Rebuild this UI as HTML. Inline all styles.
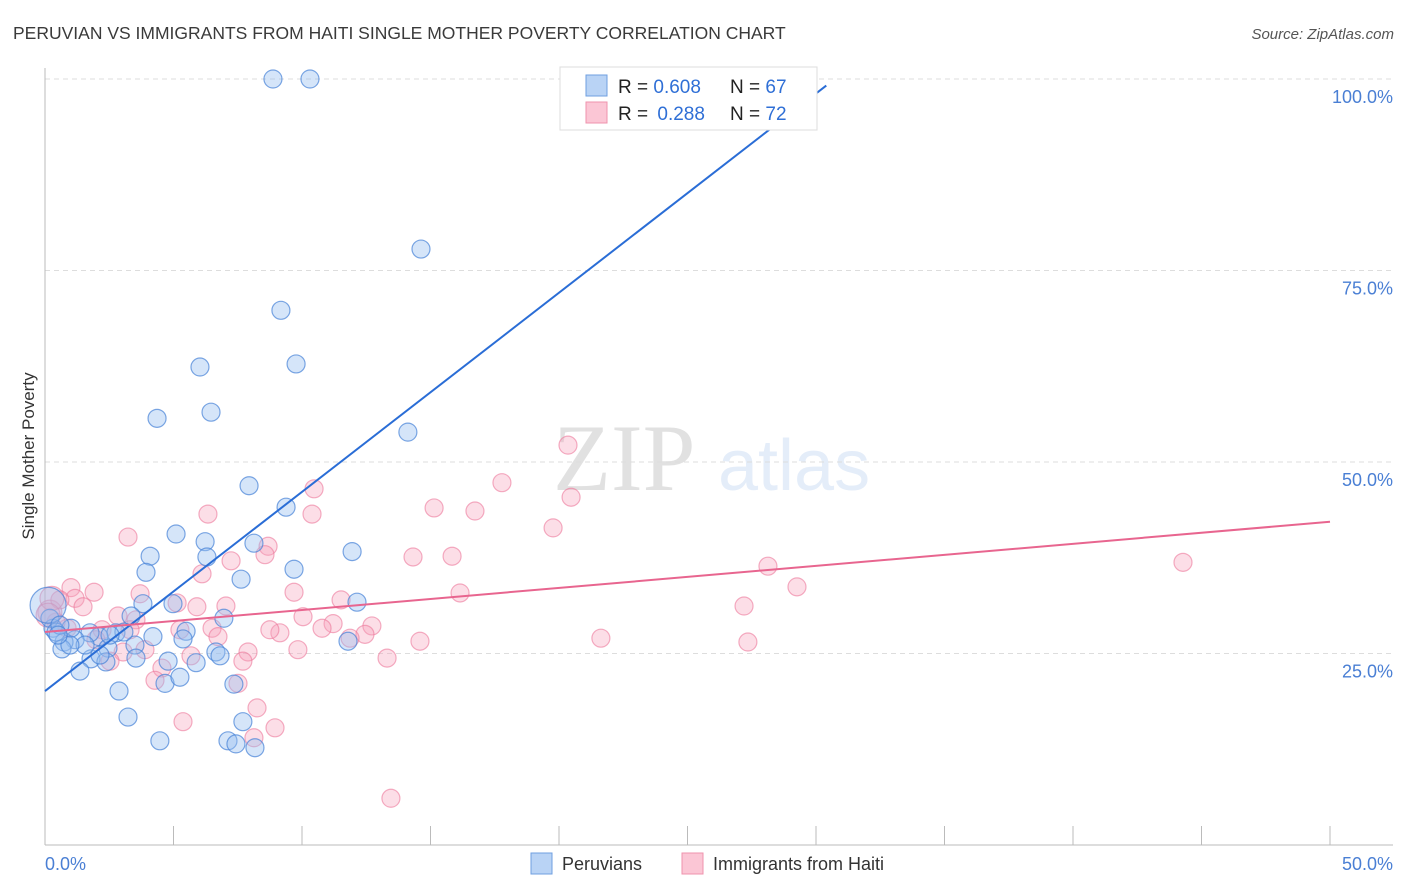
<!DOCTYPE html>
<html><head><meta charset="utf-8"><style>
body{margin:0;background:#fff;font-family:"Liberation Sans",sans-serif;}
svg{display:block}
</style></head><body>
<svg id="chart" width="1406" height="892">
<text x="13" y="39" font-size="17.5" fill="#3a3a3a">PERUVIAN VS IMMIGRANTS FROM HAITI SINGLE MOTHER POVERTY CORRELATION CHART</text>
<text x="1394" y="39" font-size="15" fill="#555" font-style="italic" text-anchor="end">Source: ZipAtlas.com</text>
<g opacity="0.13">
<text x="553" y="490" font-family="Liberation Serif,serif" font-size="95" fill="#222">ZIP</text>
<text x="718" y="490" font-size="72" fill="#3a78d4">atlas</text>
</g>
<text transform="translate(34,456) rotate(-90)" font-size="17" fill="#333" text-anchor="middle">Single Mother Poverty</text>
<g id="grid"></g>
<g id="axes"></g>
<g id="marks"></g>
<g id="lines"></g>
<g>
<rect x="560" y="67" width="257" height="63" fill="#fff" stroke="#ddd"/>
<rect x="586" y="75" width="21" height="21" fill="#b9d3f5" stroke="#6f9fe0"/>
<rect x="586" y="102" width="21" height="21" fill="#fbc6d5" stroke="#ef93ad"/>
<text x="618" y="93" font-size="19" fill="#222">R = <tspan fill="#2f6fd6">0.608</tspan></text>
<text x="730" y="93" font-size="19" fill="#222">N = <tspan fill="#2f6fd6">67</tspan></text>
<text x="618" y="120" font-size="19" fill="#222">R = <tspan fill="#2f6fd6" dx="4">0.288</tspan></text>
<text x="730" y="120" font-size="19" fill="#222">N = <tspan fill="#2f6fd6">72</tspan></text>
</g>
<g>
<rect x="531" y="853" width="21" height="21" fill="#b9d3f5" stroke="#6f9fe0"/>
<text x="562" y="870" font-size="18" fill="#333">Peruvians</text>
<rect x="682" y="853" width="21" height="21" fill="#fbc6d5" stroke="#ef93ad"/>
<text x="713" y="870" font-size="18" fill="#333">Immigrants from Haiti</text>
</g>
</svg>
<script>
const yTicks=[25,50,75,100];
const yTickLabels=["25.0%","50.0%","75.0%","100.0%"];
const xTicks=[0,5,10,15,20,25,30,35,40,45,50];
const blueX=[8.87,10.31,14.63,9.18,6.03,9.77,6.46,4.36,14.12,7.94,9.38,5.10,6.23,8.13,4.09,6.30,11.95,3.93,9.69,7.63,3.81,4.98,12.14,6.96,3.35,5.49,4.20,5.37,2.76,2.10,1.75,1.17,0.74,1.01,0.31,0.19,0.12,0.66,2.45,3.50,3.54,1.79,2.37,4.79,6.65,6.81,5.88,1.36,4.67,5.25,7.35,2.88,3.23,4.47,7.12,7.43,7.70,8.17,11.79,0.43,1.56,2.14,3.07,0.58,2.53,0.97,0.51];
const blueY=[100,100,77.8,69.8,62.4,62.8,56.5,55.7,53.9,46.9,44.1,40.6,39.6,39.4,37.7,37.6,38.3,35.6,36.0,34.7,31.5,31.5,31.7,29.6,29.9,27.9,27.2,26.9,27.7,27.2,27.7,26.8,26.5,28.3,28.3,29.6,31.3,25.6,25.7,26.1,24.4,24.3,23.9,24.0,25.2,24.7,23.8,22.7,21.1,21.9,21.0,20.1,16.7,13.6,13.6,13.2,16.1,12.7,26.6,27.8,26.1,24.8,27.8,28.7,27.4,26.1,27.4];
const pinkX=[20.35,17.78,10.47,20.47,15.14,16.73,6.34,10.39,19.77,3.23,8.68,8.56,14.32,15.84,7.24,6.11,1.01,1.91,29.26,28.13,44.28,16.15,9.69,1.17,1.48,3.70,5.14,5.91,7.04,27.20,11.52,10.04,2.84,3.54,12.72,11.21,10.78,5.25,6.50,9.14,6.73,12.45,11.87,2.22,14.59,21.63,27.35,9.84,3.89,7.90,5.68,3.04,2.53,7.70,13.31,4.55,4.28,7.51,8.25,5.37,8.95,8.13,13.46,0.86,0.43,0.19,0.58,0.27,0.12,3.31,1.98,8.75];
const pinkY=[52.2,47.3,46.5,45.4,44.0,43.6,43.2,43.2,41.4,40.2,39.0,37.9,37.6,37.7,37.1,35.4,33.6,33.0,33.7,36.4,36.9,32.9,33.0,32.2,31.1,32.8,31.6,31.1,31.2,31.2,32.0,29.8,29.9,29.4,28.6,28.9,28.3,28.1,28.3,27.7,27.2,27.5,27.0,28.1,26.6,27.0,26.5,25.5,25.5,25.2,24.7,25.2,24.0,24.0,24.4,23.1,21.5,21.1,17.9,16.1,15.3,14.0,6.1,28.3,29.1,30.4,32.0,32.2,30.0,28.1,26.8,28.1];
const blueLine=[20.1,2.60,30.4];   // intercept, slope, end x
const pinkLine=[27.8,0.288,50];
const NS="http://www.w3.org/2000/svg";
const X=v=>45+v*25.7, Y=v=>845-v*7.66;
function mk(t,a,p){const e=document.createElementNS(NS,t);for(const k in a)e.setAttribute(k,a[k]);p.appendChild(e);return e;}
const grid=document.getElementById('grid'),axes=document.getElementById('axes'),marks=document.getElementById('marks'),lines=document.getElementById('lines');
yTicks.forEach((v,i)=>{
 const l=mk('line',{x1:45,x2:1393,y1:Y(v),y2:Y(v),stroke:'#ddd','stroke-dasharray':'5,4'},grid);
 
 
 const t=mk('text',{x:1393,y:Y(v)+24,'text-anchor':'end','font-size':18,fill:'#4a7fd4'},axes);
 t.textContent=yTickLabels[i];
 
 
});
mk('line',{x1:45,x2:45,y1:68,y2:845,stroke:'#bbb'},axes);
mk('line',{x1:45,x2:1393,y1:845,y2:845,stroke:'#bbb'},axes);
xTicks.forEach(v=>{const l=mk('line',{x1:X(v),x2:X(v),y1:826,y2:845,stroke:'#bbb'},axes);
 
 });
let t0=mk('text',{x:45,y:870,'font-size':18,fill:'#4a7fd4'},axes);t0.textContent='0.0%';


let t1=mk('text',{x:1393,y:870,'font-size':18,fill:'#4a7fd4','text-anchor':'end'},axes);t1.textContent='50.0%';


pinkX.forEach((x,i)=>{const c=mk('circle',{cx:X(x),cy:Y(pinkY[i]),r:(x<0.3?12:9),fill:'rgba(247,160,185,0.35)',stroke:'rgba(236,120,155,0.6)','stroke-width':1.2},marks);
 
 });
blueX.forEach((x,i)=>{const c=mk('circle',{cx:X(x),cy:Y(blueY[i]),r:(x<0.15?18:9),fill:'rgba(150,190,240,0.4)',stroke:'rgba(70,130,215,0.7)','stroke-width':1.2},marks);
 
 });
const bl=mk('line',{x1:X(0),y1:Y(blueLine[0]),x2:X(blueLine[2]),y2:Y(blueLine[0]+blueLine[1]*blueLine[2]),stroke:'#2a6dd6','stroke-width':2},lines);


const pl=mk('line',{x1:X(0),y1:Y(pinkLine[0]),x2:X(pinkLine[2]),y2:Y(pinkLine[0]+pinkLine[1]*pinkLine[2]),stroke:'#e8658f','stroke-width':2},lines);


</script>
</body></html>
